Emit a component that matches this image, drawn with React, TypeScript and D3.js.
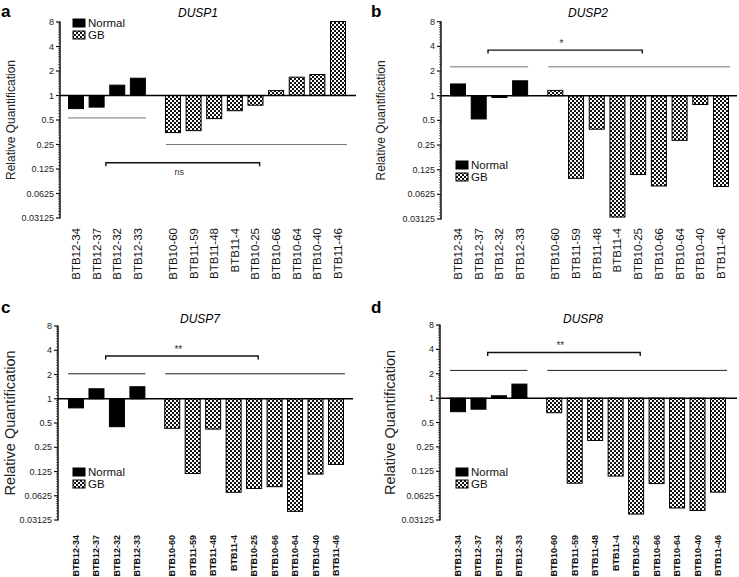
import { useEffect, useRef } from "react";
import * as d3 from "d3";

// sample names (first 4 = Normal, rest = GB)
const samples = [
  "BTB12-34", "BTB12-37", "BTB12-32", "BTB12-33",
  "BTB10-60", "BTB11-59", "BTB11-48", "BTB11-4", "BTB10-25",
  "BTB10-66", "BTB10-64", "BTB10-40", "BTB11-46",
];
const normalCount = 4;

const genes = ["DUSP1", "DUSP2", "DUSP7", "DUSP8"];
const panelLetters = ["a", "b", "c", "d"];

const dusp1 = [0.69, 0.72, 1.34, 1.63, 0.35, 0.37, 0.52, 0.65, 0.76, 1.15, 1.68, 1.81, 8.1];
const dusp2 = [1.39, 0.52, 0.95, 1.52, 1.16, 0.098, 0.39, 0.033, 0.109, 0.079, 0.285, 0.78, 0.078];
const dusp7 = [0.77, 1.33, 0.45, 1.41, 0.43, 0.118, 0.42, 0.069, 0.077, 0.081, 0.04, 0.116, 0.153];
const dusp8 = [0.68, 0.73, 1.07, 1.49, 0.66, 0.089, 0.3, 0.109, 0.037, 0.088, 0.044, 0.041, 0.069];

// group lines (normal, GB) and comparison bracket level
const groupLines = [[0.53, 0.25], [2.25, 2.25], [2.04, 2.04], [2.2, 2.2]];
const bracketLevels = [0.149, 3.6, 3.4, 3.66];
const sigLabels = ["ns", "*", "**", "**"];

const yTicks = [0.03125, 0.0625, 0.125, 0.25, 0.5, 1, 2, 4, 8];
const yTickLabels = ["0.03125", "0.0625", "0.125", "0.25", "0.5", "1", "2", "4", "8"];

const FONT = "Arial, 'Liberation Sans', sans-serif";

const panels = [
  { data: dusp1, ox: 0, axisX: 60, top: 22, bottom: 218, x0: 76, x1: 338, xEnd: 356,
    legend: [73, 19], letterY: 17, titleX: 198, titleY: 17, labelTop: 228, labelSize: 11.5, bold: false,
    yLabelX: 15, yLabelSize: 12, lineColor: "#777", sigBelow: true },
  { data: dusp2, ox: 370, axisX: 441, top: 21.7, bottom: 219, x0: 458, x1: 721, xEnd: 737,
    legend: [456, 161], letterY: 17, titleX: 588, titleY: 17, labelTop: 228, labelSize: 11.5, bold: false,
    yLabelX: 385, yLabelSize: 12, lineColor: "#777", sigBelow: false },
  { data: dusp7, ox: 0, axisX: 58, top: 326, bottom: 520, x0: 76, x1: 336, xEnd: 353,
    legend: [73, 468], letterY: 313, titleX: 200, titleY: 323, labelTop: 535, labelSize: 9, bold: true,
    yLabelX: 15, yLabelSize: 14.5, lineColor: "#222", sigBelow: false },
  { data: dusp8, ox: 370, axisX: 440, top: 325, bottom: 520, x0: 458, x1: 718, xEnd: 737,
    legend: [456, 468], letterY: 313, titleX: 583, titleY: 323, labelTop: 535, labelSize: 9, bold: true,
    yLabelX: 395, yLabelSize: 14.5, lineColor: "#222", sigBelow: false },
];

const slot = (i: number) => (i < normalCount ? i : i + 0.7);

const App = () => {
  const svgRef = useRef<SVGSVGElement | null>(null);

  useEffect(() => {
    const svg = d3.select(svgRef.current);
    svg.selectAll("*").remove();

    const defs = svg.append("defs");
    const pat = defs
      .append("pattern")
      .attr("id", "checker")
      .attr("patternUnits", "userSpaceOnUse")
      .attr("width", 4)
      .attr("height", 4);
    pat.append("rect").attr("width", 4).attr("height", 4).attr("fill", "#fff");
    pat.append("rect").attr("width", 2).attr("height", 2).attr("fill", "#111");
    pat.append("rect").attr("x", 2).attr("y", 2).attr("width", 2).attr("height", 2).attr("fill", "#111");

    panels.forEach((p, pi) => {
      const g = svg.append("g");
      const y = d3.scaleLog().base(2).domain([1 / 32, 8]).range([p.bottom, p.top]);
      const x = d3.scaleLinear().domain([0, slot(samples.length - 1)]).range([p.x0, p.x1]);
      const bw = 15;

      // panel letter
      g.append("text")
        .attr("x", p.ox + 1)
        .attr("y", p.letterY)
        .attr("font-family", FONT)
        .attr("font-weight", "bold")
        .attr("font-size", 17)
        .text(panelLetters[pi]);

      // title
      g.append("text")
        .attr("x", p.titleX)
        .attr("y", p.titleY)
        .attr("text-anchor", "middle")
        .attr("font-family", FONT)
        .attr("font-style", "italic")
        .attr("font-size", 12)
        .text(genes[pi]);

      // y label
      g.append("text")
        .attr("transform", `translate(${p.yLabelX},${(p.top + p.bottom) / 2}) rotate(-90)`)
        .attr("text-anchor", "middle")
        .attr("font-family", FONT)
        .attr("font-size", p.yLabelSize)
        .attr("fill", "#222")
        .text("Relative Quantification");

      // y axis with minor ticks
      const minor: number[] = [];
      for (let k = 0; k < yTicks.length - 1; k++) {
        for (let m = 1; m < 10; m++) minor.push(yTicks[k] * (1 + m / 10));
      }
      const ax = g.append("g").attr("stroke", "#111");
      ax.append("line")
        .attr("x1", p.axisX).attr("x2", p.axisX)
        .attr("y1", y(8) - 0.5).attr("y2", y(1 / 32) + 0.5)
        .attr("stroke-width", 1.5);
      ax.selectAll(".minor")
        .data(minor)
        .enter()
        .append("line")
        .attr("x1", p.axisX - 2).attr("x2", p.axisX)
        .attr("y1", (d) => y(d)).attr("y2", (d) => y(d))
        .attr("stroke-width", 0.6);
      ax.selectAll(".major")
        .data(yTicks)
        .enter()
        .append("line")
        .attr("x1", p.axisX - 4).attr("x2", p.axisX)
        .attr("y1", (d) => y(d)).attr("y2", (d) => y(d))
        .attr("stroke-width", 1.2);
      g.selectAll(".tl")
        .data(yTicks)
        .enter()
        .append("text")
        .attr("x", p.axisX - 6)
        .attr("y", (d) => y(d) + 3)
        .attr("text-anchor", "end")
        .attr("font-family", FONT)
        .attr("font-size", 9)
        .attr("fill", "#222")
        .text((d, i) => yTickLabels[i]);

      // bars
      g.selectAll(".bar")
        .data(p.data)
        .enter()
        .append("rect")
        .attr("x", (d, i) => x(slot(i)) - bw / 2)
        .attr("y", (d) => Math.min(y(d), y(1)))
        .attr("width", bw)
        .attr("height", (d) => Math.abs(y(d) - y(1)))
        .attr("fill", (d, i) => (i < normalCount ? "#000" : "url(#checker)"))
        .attr("stroke", "#000")
        .attr("stroke-width", 1);

      // baseline at 1
      g.append("line")
        .attr("x1", p.axisX).attr("x2", p.xEnd)
        .attr("y1", y(1)).attr("y2", y(1))
        .attr("stroke", "#000")
        .attr("stroke-width", 1.5);

      // group lines
      const gl = groupLines[pi];
      g.append("line")
        .attr("x1", x(0) - 8).attr("x2", x(slot(normalCount - 1)) + 8)
        .attr("y1", y(gl[0])).attr("y2", y(gl[0]))
        .attr("stroke", p.lineColor).attr("stroke-width", 1);
      g.append("line")
        .attr("x1", x(slot(normalCount)) - 7).attr("x2", x(slot(samples.length - 1)) + 9)
        .attr("y1", y(gl[1])).attr("y2", y(gl[1]))
        .attr("stroke", p.lineColor).attr("stroke-width", 1);

      // bracket
      const by = y(bracketLevels[pi]);
      const bx1 = x(1.45);
      const bx2 = x(8.9);
      g.append("path")
        .attr("d", `M${bx1},${by + 3.5}V${by}H${bx2}V${by + 3.5}`)
        .attr("fill", "none")
        .attr("stroke", "#111")
        .attr("stroke-width", 1.4);
      g.append("text")
        .attr("x", x(5))
        .attr("y", p.sigBelow ? by + 12 : by - 3)
        .attr("text-anchor", "middle")
        .attr("font-family", FONT)
        .attr("font-size", p.sigBelow ? 9 : 10)
        .attr("fill", "#333")
        .text(sigLabels[pi]);

      // legend
      const [lx, ly] = p.legend;
      ["Normal", "GB"].forEach((name, k) => {
        g.append("rect")
          .attr("x", lx)
          .attr("y", ly + k * 12)
          .attr("width", 12)
          .attr("height", 8)
          .attr("fill", k === 0 ? "#000" : "url(#checker)")
          .attr("stroke", "#000")
          .attr("stroke-width", 1);
        g.append("text")
          .attr("x", lx + 15)
          .attr("y", ly + k * 12 + 8)
          .attr("font-family", FONT)
          .attr("font-size", 11.5)
          .attr("fill", "#111")
          .text(name);
      });

      // x labels
      g.selectAll(".xl")
        .data(samples)
        .enter()
        .append("text")
        .attr("transform", (d, i) =>
          `translate(${x(slot(i)) + (p.bold ? 3 : 4)},${p.labelTop}) rotate(-90)`)
        .attr("text-anchor", "end")
        .attr("font-family", FONT)
        .attr("font-size", p.labelSize)
        .attr("font-weight", p.bold ? "bold" : "normal")
        .attr("fill", "#111")
        .text((d) => d);
    });
  }, []);

  return (
    <svg
      ref={svgRef}
      width={739}
      height={577}
      style={{ position: "absolute", left: 0, top: 0, background: "#fff" }}
    />
  );
};

export default App;
